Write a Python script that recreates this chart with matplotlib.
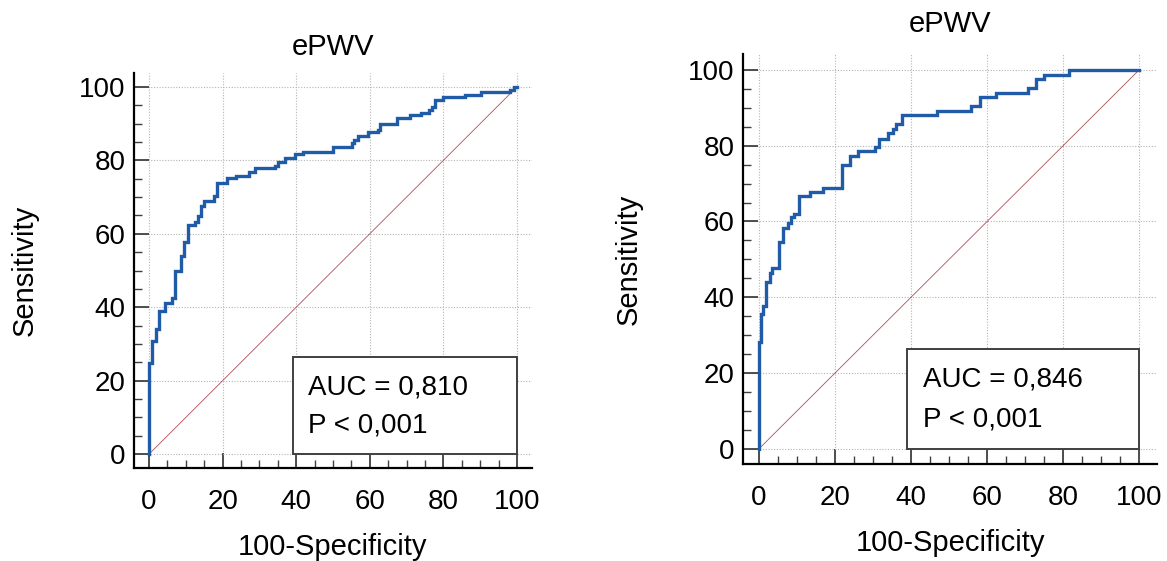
import matplotlib
matplotlib.use("Agg")
import matplotlib.pyplot as plt
from matplotlib.patches import Rectangle
from matplotlib.ticker import MultipleLocator

plt.rcParams['font.family'] = ['Liberation Sans', 'DejaVu Sans']

# Left ROC curve (100-Specificity, Sensitivity)
fpr_left = [0, 0, 0.7, 1.8, 2.7, 4.4, 6.1, 7.0, 8.6, 9.4, 10.6, 12.4, 13.3, 14.0, 14.9,
            17.6, 18.5, 21.1, 23.6, 27.2, 28.8, 34.2, 35.1, 36.9, 39.7, 41.9, 50.1, 55.1,
            55.7, 56.7, 59.6, 62.3, 62.8, 67.4, 71.0, 74.0, 76.0, 76.9, 77.8, 79.9, 85.9,
            90.3, 98.2, 99.1, 100]
tpr_left = [0, 24.8, 30.7, 34.1, 38.9, 41.1, 42.5, 49.8, 53.9, 57.7, 62.5, 63.2, 64.8, 67.5,
            68.8, 70.2, 73.7, 75.2, 75.8, 76.7, 77.9, 78.6, 79.5, 80.7, 81.6, 82.4, 83.7,
            84.7, 85.6, 86.6, 87.6, 88.4, 90.0, 91.6, 92.3, 92.9, 93.6, 94.5, 96.4, 97.2,
            97.8, 98.6, 99.3, 100, 100]

# Right ROC curve
fpr_right = [0, 0, 0.6, 1.1, 1.9, 2.8, 3.4, 5.4, 6.3, 7.6, 8.5, 9.1, 10.5, 13.5, 16.8,
             21.8, 23.9, 26.1, 30.4, 31.6, 33.9, 35.3, 36.0, 37.6, 46.7, 55.9, 58.1, 62.3,
             70.8, 73.0, 74.9, 81.6, 100]
tpr_right = [0, 28.3, 35.6, 37.7, 43.9, 46.3, 47.6, 54.6, 58.2, 59.5, 61.2, 61.9, 66.7,
             67.8, 68.9, 74.8, 77.3, 78.6, 79.6, 81.8, 83.3, 84.3, 85.6, 88.0, 89.1, 90.4,
             92.8, 93.9, 95.2, 97.5, 98.7, 100, 100]

titles = ["ePWV", "ePWV"]
auc_texts = ["AUC = 0,810", "AUC = 0,846"]
p_texts = ["P < 0,001", "P < 0,001"]
x_label = "100-Specificity"
y_label = "Sensitivity"
ticks = [0, 20, 40, 60, 80, 100]

W, H = 1167, 561
fig = plt.figure(figsize=(W / 100, H / 100), dpi=100)

ax_l = fig.add_axes([134 / W, 1 - 468 / H, 398 / W, 395 / H])
ax_r = fig.add_axes([743 / W, 1 - 464 / H, 414 / W, 410 / H])

specs = [
    (ax_l, fpr_left, tpr_left, (-4.1, 104.1), (-3.8, 103.8), 13, 29, 0),
    (ax_r, fpr_right, tpr_right, (-4.2, 104.7), (-4.0, 104.2), 16, 33, 1),
]

curve_color = '#1f5ba6'
for ax, fx, ty, xl, yl, tpad, ylpad, i in specs:
    ax.set_xlim(*xl)
    ax.set_ylim(*yl)
    ax.grid(True, which='major', color='#b4b4b4', linestyle=(0, (1, 1.5)), linewidth=0.8, zorder=0)
    ax.plot([0, 100], [0, 100], color='#a0303a', linewidth=0.6, zorder=2, alpha=0.85)
    ax.plot(fx, ty, drawstyle='steps-post', color=curve_color, linewidth=2.4, zorder=3,
            solid_joinstyle='miter')
    rect = Rectangle((39, 0), 61, 26.4, facecolor='white', edgecolor='#404040',
                     linewidth=1.4, zorder=4)
    ax.add_patch(rect)
    ax.text(43.2, 18.2, auc_texts[i], fontsize=20, va='center', ha='left', zorder=5)
    ax.text(43.2, 7.8, p_texts[i], fontsize=20, va='center', ha='left', zorder=5)

    for s in ['top', 'right']:
        ax.spines[s].set_visible(False)
    for s in ['left', 'bottom']:
        ax.spines[s].set_linewidth(1.6)
        ax.spines[s].set_color('black')
    ax.set_xticks(ticks)
    ax.set_yticks(ticks)
    ax.xaxis.set_minor_locator(MultipleLocator(5))
    ax.yaxis.set_minor_locator(MultipleLocator(5))
    ax.tick_params(which='major', direction='in', length=10.8, width=1.3, color='#404040',
                   labelsize=20)
    ax.tick_params(which='minor', direction='in', length=5.8, width=1.0, color='#404040')
    ax.tick_params(axis='x', which='major', pad=15)
    ax.tick_params(axis='y', which='major', pad=6)
    ax.set_title(titles[i], fontsize=21, pad=tpad)
    ax.set_xlabel(x_label, fontsize=21, labelpad=13)
    ax.set_ylabel(y_label, fontsize=21, labelpad=ylpad)

fig.savefig("out.png", dpi=100)
